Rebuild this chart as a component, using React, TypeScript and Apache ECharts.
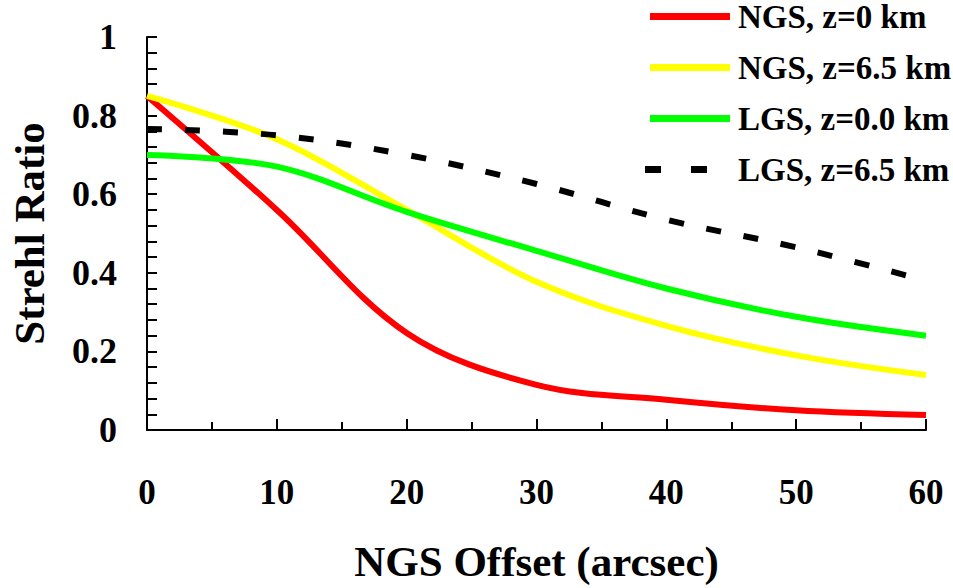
import React, { useEffect, useRef } from "react";
import * as echarts from "echarts";

const xValues = [0, 10, 20, 30, 40, 50, 60];
const ngs0 = [0.85, 0.56, 0.247, 0.115, 0.077, 0.05, 0.038];
const ngs65 = [0.85, 0.74, 0.56, 0.377, 0.265, 0.19, 0.14];
const lgs0 = [0.7, 0.67, 0.555, 0.456, 0.36, 0.288, 0.24];
const lgs65 = [0.766, 0.75, 0.7, 0.626, 0.535, 0.465, 0.38];
const seriesNames = ["NGS, z=0 km", "NGS, z=6.5 km", "LGS, z=0.0 km", "LGS, z=6.5 km"];

const FONT = '"Liberation Serif", "Times New Roman", serif';
const SOLID_ICON = "path://M5 0H85V7H5Z M0 0L0 7";
const DASH_ICON = "path://M0 0H16V7H0Z M46 0H62V7H46Z M85 0L85 7";

export default function App() {
  const ref = useRef<HTMLDivElement>(null);
  useEffect(() => {
    if (!ref.current) return;
    const chart = echarts.init(ref.current, undefined, { renderer: "svg" });
    const pairs = (ys: number[]) => xValues.map((x, i) => [x, ys[i]]);
    const mk = (name: string, ys: number[], color: string, type: any) => ({
      name,
      type: "line",
      data: pairs(ys),
      smooth: 0.35,
      symbol: "none",
      lineStyle: { color, width: 6, type, cap: "butt" },
      itemStyle: { color },
    });
    chart.setOption({
      animation: false,
      backgroundColor: "#fff",
      textStyle: { fontFamily: FONT },
      grid: { left: 143, right: 27, top: 37, bottom: 150 },
      legend: {
        orient: "vertical",
        left: 640,
        top: -5,
        itemWidth: 85,
        itemHeight: 7,
        itemGap: 18,
        data: [
          { name: seriesNames[0], icon: SOLID_ICON },
          { name: seriesNames[1], icon: SOLID_ICON },
          { name: seriesNames[2], icon: SOLID_ICON },
          { name: seriesNames[3], icon: DASH_ICON },
        ],
        textStyle: {
          fontFamily: FONT,
          fontSize: 33,
          lineHeight: 30,
          fontWeight: "bold",
          color: "#000",
          padding: [0, 0, 0, 3],
        },
      },
      xAxis: {
        type: "value",
        min: 0,
        max: 60,
        interval: 10,
        name: "NGS Offset (arcsec)",
        nameLocation: "middle",
        nameGap: 110,
        nameTextStyle: { fontFamily: FONT, fontSize: 43, fontWeight: "bold", color: "#000" },
        axisLine: { show: true, lineStyle: { color: "#000", width: 2 } },
        axisTick: { show: true, inside: true, length: 11, lineStyle: { color: "#000", width: 2 } },
        minorTick: { show: true, splitNumber: 2, length: 8, lineStyle: { color: "#000", width: 2 } },
        splitLine: { show: false },
        minorSplitLine: { show: false },
        axisLabel: { margin: 45, fontFamily: FONT, fontSize: 35, fontWeight: "bold", color: "#000" },
      },
      yAxis: {
        type: "value",
        min: 0,
        max: 1,
        interval: 0.2,
        name: "Strehl Ratio",
        nameLocation: "middle",
        nameGap: 96,
        nameTextStyle: { fontFamily: FONT, fontSize: 43, fontWeight: "bold", color: "#000" },
        axisLine: { show: true, lineStyle: { color: "#000", width: 2 } },
        axisTick: { show: true, inside: true, length: 10, lineStyle: { color: "#000", width: 2 } },
        minorTick: { show: true, splitNumber: 5, length: 10, lineStyle: { color: "#000", width: 2 } },
        splitLine: { show: false },
        minorSplitLine: { show: false },
        axisLabel: { margin: 30, fontFamily: FONT, fontSize: 36, fontWeight: "bold", color: "#000" },
      },
      series: [
        mk(seriesNames[0], ngs0, "#ff0000", "solid"),
        mk(seriesNames[1], ngs65, "#ffff00", "solid"),
        mk(seriesNames[2], lgs0, "#00ff00", "solid"),
        mk(seriesNames[3], lgs65, "#000000", [15, 23]),
      ],
    });
    return () => chart.dispose();
  }, []);
  return (
    <div
      ref={ref}
      style={{ position: "fixed", left: 0, top: 0, width: 953, height: 588, background: "#fff" }}
    />
  );
}
